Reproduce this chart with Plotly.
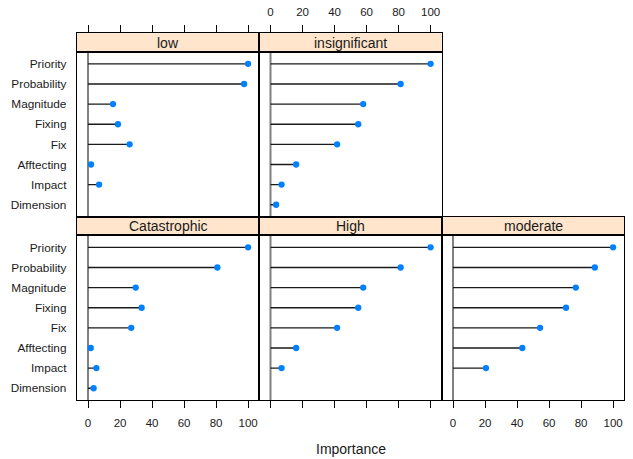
import plotly.graph_objects as go

# ---------------- data ----------------
categories = ["Priority", "Probability", "Magnitude", "Fixing", "Fix",
              "Afftecting", "Impact", "Dimension"]
panel_names = ["low", "insignificant", "Catastrophic", "High", "moderate"]
low = [100, 97.5, 15.6, 18.7, 26.0, 1.9, 6.9, None]
insignificant = [100, 81.3, 57.9, 54.8, 41.6, 16.0, 6.9, 3.5]
catastrophic = [100, 80.8, 29.8, 33.5, 27.0, 1.7, 5.2, 3.5]
high = [100, 81.3, 57.9, 54.8, 41.6, 16.0, 6.9, None]
moderate = [100, 88.6, 76.7, 70.6, 54.4, 43.3, 20.6, None]
x_ticks = [0, 20, 40, 60, 80, 100]
x_label = "Importance"

panel_values = [low, insignificant, catastrophic, high, moderate]
# (row, col) of each panel, lattice layout
panel_pos = [(0, 0), (0, 1), (1, 0), (1, 1), (1, 2)]

# ---------------- layout geometry (pixels) ----------------
W, H = 633, 459
col_edges = [76.8, 259.3, 441.8, 624.3]
strip_tops = [33.3, 216.8]
strip_h = 18.5
panel_h = 165.0
FONT = "Liberation Sans, Arial, sans-serif"
STRIP_BG = "#ffe5cc"
DOT = "#0080ff"
TXT = "#1a1a1a"
XRANGE = [-7, 107]

fig = go.Figure()
layout = dict(
    width=W, height=H, margin=dict(l=0, r=0, t=0, b=0, autoexpand=False),
    paper_bgcolor="white", plot_bgcolor="white", showlegend=False,
    font=dict(family=FONT, color="#000000"),
)
shapes = []
annotations = []


def aid(n, kind):
    return kind if n == 1 else f"{kind}{n}"


for i, (name, vals) in enumerate(zip(panel_names, panel_values)):
    row, col = panel_pos[i]
    k = i + 1          # panel axes
    s = i + 6          # strip axes
    xd = [col_edges[col] / W, col_edges[col + 1] / W]
    st = strip_tops[row]
    strip_dom = [1 - (st + strip_h) / H, 1 - st / H]
    panel_dom = [1 - (st + strip_h + panel_h) / H, 1 - (st + strip_h) / H]

    xa, ya = aid(k, "x"), aid(k, "y")
    xs, ys = aid(s, "x"), aid(s, "y")

    # stems from 0 to value
    sx, sy = [], []
    for c, v in zip(categories, vals):
        if v is None:
            continue
        sx += [0, v, None]
        sy += [c, c, None]
    fig.add_trace(go.Scatter(x=sx, y=sy, mode="lines", xaxis=xa, yaxis=ya,
                             line=dict(color="#1a1a1a", width=1.3),
                             hoverinfo="skip"))
    fig.add_trace(go.Scatter(x=vals, y=categories, mode="markers",
                             xaxis=xa, yaxis=ya,
                             marker=dict(color=DOT, size=6.3, symbol="circle"),
                             name=name))
    # empty trace to build the strip subplot
    fig.add_trace(go.Scatter(x=[None], y=[None], xaxis=xs, yaxis=ys,
                             hoverinfo="skip"))

    bottom_row = row == 1
    label_bottom = bottom_row and col != 1
    layout["xaxis" if k == 1 else f"xaxis{k}"] = dict(
        domain=xd, anchor=ya, range=XRANGE, showgrid=False, zeroline=False,
        showline=True, mirror=True, linecolor="black", linewidth=1,
        ticks="outside" if bottom_row else "", ticklen=7, tickcolor="black",
        tickwidth=1, tickvals=x_ticks, showticklabels=label_bottom,
        tickfont=dict(size=11.5, color=TXT), ticklabelstandoff=5,
        automargin=False, fixedrange=True,
    )
    layout["yaxis" if k == 1 else f"yaxis{k}"] = dict(
        domain=panel_dom, anchor=xa, type="category",
        categoryorder="array", categoryarray=categories[::-1],
        range=[-0.6, len(categories) - 0.4], showgrid=False, zeroline=False,
        showline=True, mirror=True, linecolor="black", linewidth=1,
        ticks="", showticklabels=(col == 0),
        tickfont=dict(size=11.8, color=TXT), ticklabelstandoff=7,
        automargin=False, fixedrange=True,
    )
    top_row = row == 0
    layout[f"xaxis{s}"] = dict(
        domain=xd, anchor=ys, range=XRANGE, side="top", showgrid=False,
        zeroline=False, showline=True, mirror=True, linecolor="black",
        linewidth=1, ticks="outside" if top_row else "", ticklen=7,
        tickcolor="black", tickwidth=1, tickvals=x_ticks,
        showticklabels=(top_row and col == 1),
        tickfont=dict(size=11.5, color=TXT), ticklabelstandoff=5,
        automargin=False, fixedrange=True,
    )
    layout[f"yaxis{s}"] = dict(
        domain=strip_dom, anchor=xs, range=[0, 1], showgrid=False,
        zeroline=False, showline=True, mirror=True, linecolor="black",
        linewidth=1, ticks="", showticklabels=False, automargin=False,
        fixedrange=True,
    )

    shapes.append(dict(type="rect", xref=f"{xs} domain", yref=f"{ys} domain",
                       x0=0, x1=1, y0=0, y1=1, fillcolor=STRIP_BG,
                       line=dict(width=0), layer="below"))
    shapes.append(dict(type="line", xref=xa, yref=f"{ya} domain",
                       x0=0, x1=0, y0=0, y1=1,
                       line=dict(color="#808080", width=2), layer="below"))
    annotations.append(dict(text=name, xref=f"{xs} domain", yref=f"{ys} domain",
                            x=0.5, y=0.5, xanchor="center", yanchor="middle",
                            showarrow=False,
                            font=dict(size=14, color=TXT)))

annotations.append(dict(text=x_label, xref="paper", yref="paper",
                        x=(col_edges[0] + col_edges[-1]) / 2 / W,
                        y=1 - 449 / H, xanchor="center", yanchor="middle",
                        showarrow=False, font=dict(size=14, color=TXT)))

layout["shapes"] = shapes
layout["annotations"] = annotations
fig.update_layout(**layout)
fig.write_html(
    "out.html",
    config={"displayModeBar": False, "staticPlot": True},
    post_script="document.body.style.margin='0';document.body.style.overflow='hidden';",
)
